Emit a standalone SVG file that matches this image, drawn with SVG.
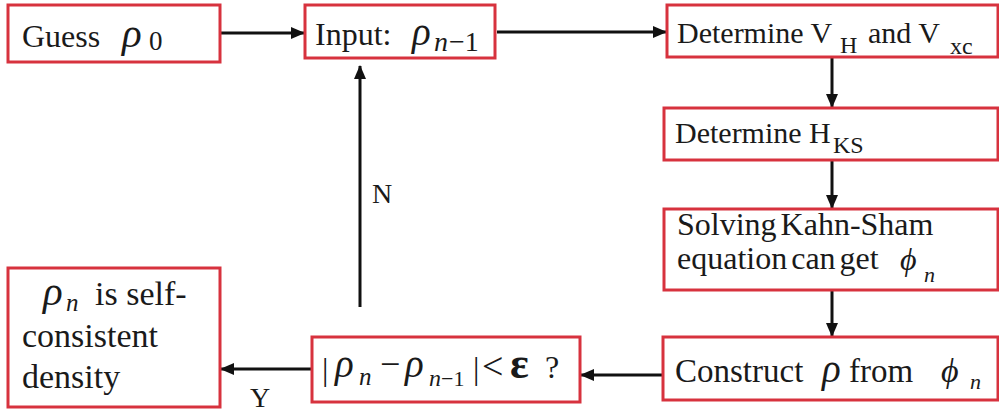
<svg xmlns="http://www.w3.org/2000/svg" width="999" height="412" viewBox="0 0 999 412">
<defs>
<style>
.box{fill:#fff;stroke:#d7323e;stroke-width:3}
.t{font-family:"Liberation Serif","Times New Roman",serif;fill:#1a1a1a}
.m{font-family:"Liberation Serif","Times New Roman",serif;font-style:italic;fill:#1a1a1a}
.c{stroke:#111;stroke-width:3;fill:none;marker-end:url(#ah)}
</style>
<marker id="ah" markerUnits="userSpaceOnUse" markerWidth="14" markerHeight="12" refX="13" refY="6" orient="auto">
<path d="M0,0 L14,6 L0,12 Z" fill="#111"/>
</marker>
</defs>
<rect width="999" height="412" fill="#fff"/>
<g id="connectors">
<line class="c" x1="221" y1="33" x2="304" y2="33"/>
<line class="c" x1="497" y1="32" x2="666" y2="32"/>
<line class="c" x1="832" y1="58" x2="832" y2="107"/>
<line class="c" x1="832" y1="161" x2="832" y2="208"/>
<line class="c" x1="832" y1="291" x2="832" y2="336"/>
<line class="c" x1="662" y1="375" x2="581" y2="375"/>
<line class="c" x1="311" y1="369" x2="221" y2="369"/>
<line class="c" x1="360" y1="307" x2="360" y2="66"/>
<text class="t" x="372" y="203" font-size="28">N</text>
<text class="t" x="250" y="407" font-size="28">Y</text>
</g>
<g id="guess">
<rect class="box" x="8" y="5" width="212" height="57"/>
<text class="t" x="22" y="47" font-size="32">Guess</text>
<text class="m" x="122" y="47" font-size="41">ρ</text>
<text class="t" x="149" y="50" font-size="27">0</text>
</g>
<g id="input">
<rect class="box" x="305" y="5" width="190" height="53"/>
<text class="t" x="315" y="45" font-size="32">Input:</text>
<text class="m" x="412" y="45" font-size="39">ρ</text>
<text class="m" x="434" y="51" font-size="28">n</text>
<text class="t" x="449" y="51" font-size="28">−1</text>
</g>
<g id="vhvxc">
<rect class="box" x="667" y="5" width="331" height="52"/>
<text class="t" x="677" y="43" font-size="30">Determine V</text>
<text class="t" x="840" y="53" font-size="24">H</text>
<text class="t" x="868" y="43" font-size="30">and V</text>
<text class="t" x="950" y="54" font-size="24">xc</text>
</g>
<g id="hks">
<rect class="box" x="664" y="108" width="334" height="52"/>
<text class="t" x="675" y="143" font-size="30">Determine H</text>
<text class="t" x="833" y="153" font-size="24">KS</text>
</g>
<g id="solve">
<rect class="box" x="664" y="209" width="334" height="81"/>
<text class="t" x="677" y="235" font-size="32" word-spacing="-4">Solving Kahn-Sham</text>
<text class="t" x="677" y="269" font-size="32" word-spacing="-4">equation can get</text>
<text class="m" x="900" y="270" font-size="32">ϕ</text>
<text class="m" x="924" y="282" font-size="22">n</text>
</g>
<g id="construct">
<rect class="box" x="663" y="337" width="335" height="63"/>
<text class="t" x="675" y="382" font-size="33">Construct</text>
<text class="m" x="822" y="382" font-size="39">ρ</text>
<text class="t" x="849" y="382" font-size="33">from</text>
<text class="m" x="941" y="382" font-size="34">ϕ</text>
<text class="m" x="970" y="389" font-size="22">n</text>
</g>
<g id="check">
<rect class="box" x="312" y="337" width="268" height="65"/>
<text class="t" x="322" y="380" font-size="32">|</text>
<text class="m" x="335" y="377" font-size="39">ρ</text>
<text class="m" x="359" y="385" font-size="25">n</text>
<text class="t" x="380" y="376" font-size="36">−</text>
<text class="m" x="405" y="377" font-size="39">ρ</text>
<text class="m" x="429" y="386" font-size="24">n</text>
<text class="t" x="441" y="386" font-size="22">−1</text>
<text class="t" x="473" y="379" font-size="32">|</text>
<text class="t" x="482" y="379" font-size="38">&lt;</text>
<text class="t" x="510" y="378" font-size="44" font-weight="bold">ε</text>
<text class="t" x="545" y="378" font-size="32">?</text>
</g>
<g id="result">
<rect class="box" x="8" y="268" width="212" height="139"/>
<text class="m" x="43" y="305" font-size="41">ρ</text>
<text class="m" x="66" y="311" font-size="25">n</text>
<text class="t" x="95" y="305" font-size="34">is self-</text>
<text class="t" x="22" y="347" font-size="34">consistent</text>
<text class="t" x="22" y="388" font-size="34">density</text>
</g>
</svg>
